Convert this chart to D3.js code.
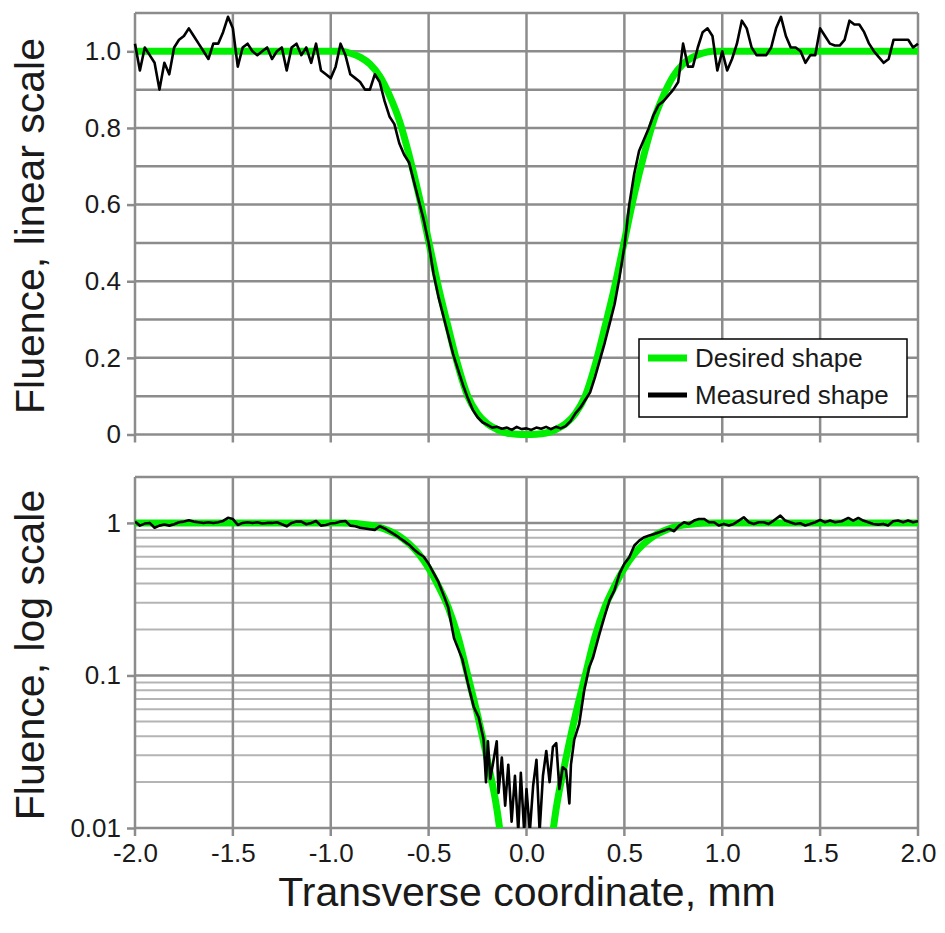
<!DOCTYPE html>
<html>
<head>
<meta charset="utf-8">
<script src="https://cdn.jsdelivr.net/npm/d3@7"></script>
<style>
  body { margin: 0; background: #fff; }
  svg text { font-family: "Liberation Sans", Arial, sans-serif; fill: #1a1a1a; }
</style>
</head>
<body>
<svg id="chart" width="945" height="933"></svg>
<script>
// x ticks (mm) shared by both panels
var xTicks = [-2.0, -1.5, -1.0, -0.5, 0.0, 0.5, 1.0, 1.5, 2.0];
var linTicks = [0, 0.2, 0.4, 0.6, 0.8, 1.0];
var logTicks = [0.01, 0.1, 1];

// desired (target) profile
var desiredX = [-2.0, -1.5, -1.0, -0.95, -0.9, -0.85, -0.8, -0.75, -0.7, -0.65, -0.6, -0.55, -0.5, -0.45, -0.4, -0.35, -0.3, -0.25, -0.2, -0.15, -0.125, -0.1, -0.05,
                0, 0.05, 0.1, 0.125, 0.15, 0.2, 0.25, 0.3, 0.35, 0.4, 0.45, 0.5, 0.55, 0.6, 0.65, 0.7, 0.75, 0.8, 0.85, 0.9, 0.95, 1.0, 1.5, 2.0];
var desiredY = [1.0, 1.0, 1.0, 1.0, 0.995, 0.985, 0.967, 0.935, 0.885, 0.82, 0.73, 0.625, 0.505, 0.385, 0.28, 0.18, 0.10, 0.055, 0.028, 0.013, 0.0075, 0.004, 0.0007,
                0, 0.0007, 0.004, 0.0075, 0.013, 0.028, 0.055, 0.10, 0.18, 0.28, 0.385, 0.505, 0.625, 0.73, 0.82, 0.885, 0.935, 0.967, 0.985, 0.995, 1.0, 1.0, 1.0, 1.0];

// measured profile, linear panel: one value every 0.025 mm from -2.0
var linStart = -2.0, linStep = 0.025;
var linMeasured = [
  1.02, 0.95, 1.01, 0.99, 0.97, 0.90, 0.97, 0.94,
  1.01, 1.03, 1.04, 1.06, 1.04, 1.02, 1.00, 0.98,
  1.02, 1.02, 1.05, 1.09, 1.06, 0.96, 1.01, 1.02,
  1.00, 0.99, 1.00, 1.01, 0.98, 1.00, 1.01, 0.95,
  1.01, 1.02, 0.99, 1.01, 0.97, 1.02, 0.95, 0.94,
  0.93, 0.96, 1.02, 0.99, 0.94, 0.93, 0.92, 0.90,
  0.90, 0.94, 0.92, 0.87, 0.83, 0.81, 0.76, 0.73,
  0.71, 0.66, 0.61, 0.56, 0.50, 0.42, 0.36, 0.31,
  0.26, 0.21, 0.17, 0.13, 0.095, 0.065, 0.045, 0.032,
  0.025, 0.018, 0.02, 0.015, 0.018, 0.012, 0.02, 0.014,
  0.016, 0.012, 0.018, 0.015, 0.02, 0.014, 0.02, 0.016,
  0.022, 0.035, 0.055, 0.07, 0.09, 0.11, 0.15, 0.195,
  0.24, 0.29, 0.34, 0.41, 0.49, 0.60, 0.68, 0.74,
  0.77, 0.80, 0.835, 0.86, 0.87, 0.885, 0.90, 0.92,
  1.02, 0.96, 0.96, 1.01, 1.05, 1.06, 1.04, 0.95,
  1.00, 0.95, 0.98, 1.02, 1.08, 1.06, 1.01, 0.99,
  0.99, 0.99, 1.01, 1.06, 1.09, 1.04, 1.01, 1.01,
  1.00, 0.97, 0.99, 0.99, 1.06, 1.04, 1.02, 1.015,
  1.015, 1.03, 1.08, 1.07, 1.07, 1.05, 1.02, 1.00,
  0.985, 0.97, 0.98, 1.03, 1.03, 1.03, 1.03, 1.01,
  1.02
];

// measured profile, log panel: left wing every 0.025 mm from -2.0
var logWingLeft = [
  1.02, 0.96, 0.99, 1.00, 0.93, 0.96, 0.975, 0.96,
  0.98, 1.01, 1.02, 1.04, 1.02, 1.01, 1.00, 1.01,
  1.00, 1.01, 1.03, 1.08, 1.06, 0.97, 1.00, 1.01,
  1.00, 1.01, 0.99, 1.00, 1.00, 1.01, 0.98, 0.95,
  1.00, 1.02, 1.02, 0.98, 1.00, 1.03, 0.96, 0.97,
  0.99, 1.00, 1.02, 1.03, 0.96, 0.95, 0.93, 0.92,
  0.91, 0.90, 0.95, 0.92, 0.88, 0.84, 0.80, 0.76,
  0.72, 0.67, 0.63, 0.60, 0.54, 0.47, 0.41, 0.34
];
// noisy core of the log panel, [mm, fluence]
var logCore = [
  [-0.400, 0.28], [-0.385, 0.22], [-0.370, 0.175], [-0.328, 0.128], [-0.295, 0.084],
  [-0.269, 0.062], [-0.244, 0.053], [-0.219, 0.038], [-0.207, 0.020], [-0.197, 0.037],
  [-0.185, 0.021], [-0.168, 0.028], [-0.152, 0.037], [-0.143, 0.017], [-0.126, 0.029],
  [-0.109, 0.014], [-0.093, 0.026], [-0.076, 0.011], [-0.059, 0.022], [-0.042, 0.0095],
  [-0.029, 0.023], [-0.012, 0.0095], [0.000, 0.018], [0.017, 0.0095], [0.034, 0.019],
  [0.051, 0.028], [0.067, 0.0095], [0.084, 0.022], [0.101, 0.032], [0.118, 0.020],
  [0.135, 0.034], [0.152, 0.036], [0.168, 0.018], [0.185, 0.025], [0.202, 0.024],
  [0.219, 0.0145], [0.227, 0.026], [0.244, 0.038], [0.269, 0.048], [0.295, 0.080],
  [0.320, 0.113]
];
// right wing of the log panel, [mm, fluence]
var logWingRight = [
  [0.339, 0.13], [0.373, 0.188], [0.398, 0.242], [0.424, 0.311], [0.449, 0.361],
  [0.475, 0.464], [0.500, 0.54], [0.525, 0.596], [0.551, 0.711], [0.576, 0.766],
  [0.602, 0.806], [0.627, 0.826], [0.653, 0.847], [0.678, 0.869], [0.703, 0.891],
  [0.729, 0.914], [0.754, 0.882], [0.780, 0.961], [0.805, 1.01], [0.830, 0.985],
  [0.856, 1.036], [0.881, 1.062], [0.907, 1.062], [0.932, 1.01], [0.958, 1.01],
  [0.983, 0.961], [1.008, 0.985], [1.034, 0.961], [1.059, 0.985], [1.085, 1.036],
  [1.110, 1.089], [1.136, 1.01], [1.161, 0.985], [1.186, 1.01], [1.212, 1.01],
  [1.237, 0.985], [1.263, 1.036], [1.297, 1.117], [1.322, 1.036], [1.347, 1.01],
  [1.373, 0.985], [1.398, 0.995], [1.424, 0.961], [1.449, 0.985], [1.475, 1.01],
  [1.500, 1.046], [1.525, 1.01], [1.551, 1.036], [1.576, 1.01], [1.610, 1.025],
  [1.644, 1.078], [1.669, 1.036], [1.695, 1.078], [1.720, 1.036], [1.746, 1.01],
  [1.771, 0.985], [1.797, 0.975], [1.822, 0.985], [1.847, 0.961], [1.873, 1.025],
  [1.898, 1.036], [1.924, 1.01], [1.949, 1.036], [1.975, 1.01], [2.000, 1.025]
];

var gridColor = '#8c8c8c', minorColor = '#b4b4b4', green = '#00ee00';

var svg = d3.select('#chart');

var left = 135, right = 918;
var x = d3.scaleLinear().domain([-2, 2]).range([left, right]);
var yLin = d3.scaleLinear().domain([0, 1.1]).range([434.5, 13]);
var yLog = d3.scaleLog().domain([0.01, 2]).range([828, 477]);

var desired = desiredX.map(function(d, i) { return [d, desiredY[i]]; });
var linData = linMeasured.map(function(v, i) { return [linStart + i * linStep, v]; });
var logData = logWingLeft.map(function(v, i) { return [linStart + i * linStep, v]; })
  .concat(logCore, logWingRight);

svg.append('defs').append('clipPath').attr('id', 'clipLog')
  .append('rect').attr('x', left).attr('y', 477).attr('width', right - left).attr('height', 828 - 477);

function panel(y, top, bottom, hMajor, hMinor, yTicks, fmt, lineData, clip) {
  var g = svg.append('g');

  // minor horizontal grid
  g.selectAll('.hmin').data(hMinor).enter().append('line')
    .attr('x1', left).attr('x2', right)
    .attr('y1', function(d) { return y(d); }).attr('y2', function(d) { return y(d); })
    .attr('stroke', minorColor).attr('stroke-width', 2);

  // major horizontal grid
  g.selectAll('.hmaj').data(hMajor).enter().append('line')
    .attr('x1', left).attr('x2', right)
    .attr('y1', function(d) { return y(d); }).attr('y2', function(d) { return y(d); })
    .attr('stroke', gridColor).attr('stroke-width', 2.5);

  // vertical grid, running a little past the bottom as tick marks
  g.selectAll('.vgrid').data(xTicks).enter().append('line')
    .attr('x1', function(d) { return x(d); }).attr('x2', function(d) { return x(d); })
    .attr('y1', top).attr('y2', bottom + 8)
    .attr('stroke', gridColor).attr('stroke-width', 2.5);

  // y axis labels and outside ticks
  var ax = g.append('g').attr('transform', 'translate(' + left + ',0)')
    .call(d3.axisLeft(y).tickValues(yTicks).tickSize(8).tickPadding(6).tickFormat(fmt));
  ax.select('.domain').remove();
  ax.selectAll('line').attr('stroke', gridColor).attr('stroke-width', 2.5);
  ax.selectAll('text').style('font-size', '26px').attr('fill', '#1a1a1a');

  var line = d3.line()
    .defined(function(d) { return d[1] > 0 || y === yLin; })
    .x(function(d) { return x(d[0]); })
    .y(function(d) { return y(d[1]); });

  var plot = g.append('g');
  if (clip) plot.attr('clip-path', 'url(#' + clip + ')');

  plot.append('path').datum(desired)
    .attr('d', line.curve(d3.curveMonotoneX))
    .attr('fill', 'none').attr('stroke', green).attr('stroke-width', 7);

  plot.append('path').datum(lineData)
    .attr('d', line.curve(d3.curveLinear))
    .attr('fill', 'none').attr('stroke', '#000').attr('stroke-width', 2.6)
    .attr('stroke-linejoin', 'round');

  return g;
}

// top panel: linear scale
panel(yLin, 13, 434.5,
  d3.range(0, 11).map(function(i) { return i / 10; }).concat([1.1]),
  [],
  linTicks,
  function(d) { return d === 0 ? '0' : d.toFixed(1); },
  linData, null);

// bottom panel: log scale
var logMinor = [];
[0.01, 0.1].forEach(function(dec) {
  for (var k = 2; k <= 9; k++) logMinor.push(dec * k);
});
panel(yLog, 477, 828,
  [0.01, 0.1, 1, 2],
  logMinor,
  logTicks,
  function(d) { return String(d); },
  logData, 'clipLog');

// x axis labels under the bottom panel
var xa = svg.append('g').attr('transform', 'translate(0,828)')
  .call(d3.axisBottom(x).tickValues(xTicks).tickSize(0).tickPadding(16)
    .tickFormat(function(d) { return d.toFixed(1); }));
xa.select('.domain').remove();
xa.selectAll('text').style('font-size', '26px').attr('fill', '#1a1a1a');

// axis titles
svg.append('text').attr('transform', 'translate(44,226) rotate(-90)')
  .attr('text-anchor', 'middle').style('font-size', '41px').text('Fluence, linear scale');
svg.append('text').attr('transform', 'translate(44,655) rotate(-90)')
  .attr('text-anchor', 'middle').style('font-size', '41px').text('Fluence, log scale');
svg.append('text').attr('x', 527).attr('y', 906)
  .attr('text-anchor', 'middle').style('font-size', '41px').text('Transverse coordinate, mm');

// legend
var legendItems = [
  { name: 'Desired shape', color: green, width: 7 },
  { name: 'Measured shape', color: '#000', width: 5 }
];
var lg = svg.append('g').attr('transform', 'translate(639,339)');
lg.append('rect').attr('width', 268).attr('height', 78)
  .attr('fill', '#fff').attr('stroke', '#000').attr('stroke-width', 1.5);
var li = lg.selectAll('.item').data(legendItems).enter().append('g')
  .attr('transform', function(d, i) { return 'translate(0,' + (19 + i * 37) + ')'; });
li.append('line').attr('x1', 9).attr('x2', 48).attr('y1', 0).attr('y2', 0)
  .attr('stroke', function(d) { return d.color; })
  .attr('stroke-width', function(d) { return d.width; });
li.append('text').attr('x', 56).attr('y', 0).attr('dy', '0.36em')
  .style('font-size', '26px').text(function(d) { return d.name; });
</script>
</body>
</html>
